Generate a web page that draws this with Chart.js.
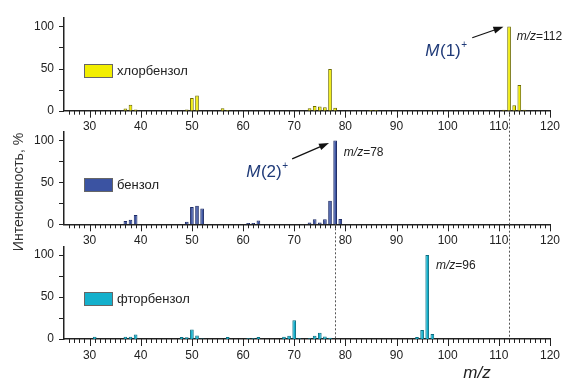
<!DOCTYPE html>
<html><head><meta charset="utf-8">
<script src="https://cdn.jsdelivr.net/npm/chart.js@4"></script>
<style>
html,body{margin:0;padding:0;background:#fff;width:580px;height:385px;overflow:hidden}
#wrap{position:relative;width:580px;height:385px}
canvas{position:absolute;left:0;top:0}
</style></head><body>
<div id="wrap">
<canvas id="c1" width="580" height="385"></canvas>
<canvas id="c2" width="580" height="385"></canvas>
<canvas id="c3" width="580" height="385"></canvas>
</div>
<script>
// ---- data ----
const xMin = 25, xMax = 120;
const xTickLabels = [30, 40, 50, 60, 70, 80, 90, 100, 110, 120];
const yTickLabels = [0, 50, 100];
const seriesNames = ['хлорбензол', 'бензол', 'фторбензол'];

const chloroMz  = [37, 38, 39, 49, 50, 51, 56, 57, 73, 74, 75, 76, 77, 78, 85, 86, 97, 111, 112, 113, 114, 115];
const chloroInt = [2.5, 7, 1.5, 1.5, 15, 18, 2.8, 0.8, 2.8, 5.5, 5, 4, 49.5, 3.5, 0.8, 0.8, 0.4, 1, 100, 6.5, 30.5, 1];

const benzMz  = [37, 38, 39, 49, 50, 51, 52, 61, 62, 63, 73, 74, 75, 76, 77, 78, 79];
const benzInt = [4, 5.5, 11, 3, 20.7, 22, 18.7, 1.5, 1.5, 4.5, 2, 6, 2, 6, 28, 100, 6.3];

const fluoMz  = [31, 37, 38, 39, 48, 49, 50, 51, 52, 57, 61, 62, 63, 68, 69, 70, 71, 73, 74, 75, 76, 77, 94, 95, 96, 97];
const fluoInt = [2.7, 2.7, 2.7, 5.5, 2.5, 2, 11.4, 4.3, 0.7, 2.5, 1, 1, 2.5, 2.7, 3.8, 22.4, 1, 1, 3.8, 7.5, 3.1, 1.5, 2.3, 10.6, 100, 5.9];

const molPeaks = [112, 78, 96];

const charts = [];
const FONT = '"Liberation Sans", Arial, sans-serif';

const decorPlugin = {
  id: 'decor',
  afterDraw(chart, args, opts) {
    const ctx = chart.ctx, xs = chart.scales.x, ys = chart.scales.y;
    ctx.save();
    // tick marks
    ctx.strokeStyle = '#222'; ctx.lineWidth = 1;
    ctx.beginPath();
    for (let v = xMin + 1; v <= xMax; v++) {
      const px = Math.round(xs.getPixelForValue(v)) + 0.5;
      const len = v % 10 === 0 ? 7 : 4;
      ctx.moveTo(px, ys.bottom); ctx.lineTo(px, ys.bottom + len);
    }
    for (let v = 0; v <= 100; v += 25) {
      const py = Math.round(ys.getPixelForValue(v)) + 0.5;
      ctx.moveTo(xs.left - 5, py); ctx.lineTo(xs.left, py);
    }
    ctx.stroke();
    // legend
    const ds = chart.data.datasets[0];
    const bx = xs.left + 20, by = Math.round(ys.getPixelForValue(opts.legendY)) - 7;
    ctx.fillStyle = ds.backgroundColor; ctx.fillRect(bx, by, 29, 14);
    ctx.strokeStyle = '#666'; ctx.lineWidth = 1; ctx.strokeRect(bx + 0.5, by + 0.5, 28, 13);
    ctx.fillStyle = '#222'; ctx.font = '13px ' + FONT; ctx.textBaseline = 'middle'; ctx.textAlign = 'left';
    ctx.fillText(ds.label, bx + 33, by + 7);
    // annotations
    (opts.items || []).forEach(it => {
      if (it.type === 'arrow') {
        const x1 = xs.getPixelForValue(it.x1), y1 = ys.getPixelForValue(it.y1);
        const x2 = xs.getPixelForValue(it.x2), y2 = ys.getPixelForValue(it.y2);
        const a = Math.atan2(y2 - y1, x2 - x1);
        ctx.strokeStyle = '#111'; ctx.fillStyle = '#111'; ctx.lineWidth = 1.2;
        ctx.beginPath(); ctx.moveTo(x1, y1); ctx.lineTo(x2 - 8 * Math.cos(a), y2 - 8 * Math.sin(a)); ctx.stroke();
        ctx.beginPath();
        ctx.moveTo(x2, y2);
        ctx.lineTo(x2 - 10 * Math.cos(a) + 3.5 * Math.sin(a), y2 - 10 * Math.sin(a) - 3.5 * Math.cos(a));
        ctx.lineTo(x2 - 10 * Math.cos(a) - 3.5 * Math.sin(a), y2 - 10 * Math.sin(a) + 3.5 * Math.cos(a));
        ctx.closePath(); ctx.fill();
      } else if (it.type === 'mol') {
        const xr = xs.getPixelForValue(it.x), y = ys.getPixelForValue(it.y);
        ctx.textBaseline = 'middle'; ctx.textAlign = 'left'; ctx.fillStyle = '#1f3a78';
        ctx.font = 'italic 17px ' + FONT; const wM = ctx.measureText('M').width;
        ctx.font = '17px ' + FONT; const wP = ctx.measureText('(' + it.n + ')').width;
        ctx.font = '10px ' + FONT; const wS = ctx.measureText('+').width;
        let x = xr - (wM + wP + wS + 1);
        ctx.font = 'italic 17px ' + FONT; ctx.fillText('M', x, y); x += wM + 0.5;
        ctx.font = '17px ' + FONT; ctx.fillText('(' + it.n + ')', x, y); x += wP + 0.5;
        ctx.font = '10px ' + FONT; ctx.fillText('+', x, y - 6);
      } else if (it.type === 'mz') {
        const x = xs.getPixelForValue(it.x), y = ys.getPixelForValue(it.y);
        ctx.textBaseline = 'middle'; ctx.textAlign = 'left'; ctx.fillStyle = '#222';
        ctx.font = 'italic 12px ' + FONT; ctx.fillText('m/z', x, y);
        const w = ctx.measureText('m/z').width;
        ctx.font = '12px ' + FONT; ctx.fillText('=' + it.v, x + w, y);
      }
    });
    // global decorations drawn on the last chart
    if (opts.global && charts.length === 2) {
      const c1 = charts[0], c2 = charts[1];
      const yEnd = ys.getPixelForValue(0);
      ctx.strokeStyle = '#555'; ctx.lineWidth = 1; ctx.setLineDash([2, 2]);
      ctx.beginPath();
      let px = Math.round(xs.getPixelForValue(molPeaks[0])) + 0.5;
      ctx.moveTo(px, c1.scales.y.getPixelForValue(0)); ctx.lineTo(px, yEnd);
      px = Math.round(xs.getPixelForValue(molPeaks[1])) + 0.5;
      ctx.moveTo(px, c2.scales.y.getPixelForValue(0)); ctx.lineTo(px, yEnd);
      ctx.stroke();
      ctx.setLineDash([]);
      // axis titles
      ctx.fillStyle = '#222'; ctx.textAlign = 'center'; ctx.textBaseline = 'middle';
      ctx.font = 'italic 17px ' + FONT;
      ctx.fillText('m/z', 477, 373);
      ctx.save();
      ctx.translate(19, 192); ctx.rotate(-Math.PI / 2);
      ctx.font = '14px ' + FONT; ctx.fillStyle = '#333';
      ctx.fillText('Интенсивность, %', 0, 0);
      ctx.restore();
    }
    ctx.restore();
  }
};

function makeChart(id, name, mz, vals, fill, border, top, bottom, items, global) {
  const c = new Chart(document.getElementById(id), {
    type: 'bar',
    data: {
      datasets: [{
        label: name,
        data: mz.map((x, i) => ({ x: x, y: vals[i] })),
        backgroundColor: fill, borderColor: border, borderWidth: 1,
        categoryPercentage: 0.8, barPercentage: 0.9
      }]
    },
    options: {
      responsive: false, animation: false, events: [],
      layout: { padding: { left: 0, right: 30, top: top, bottom: 385 - bottom - 20 } },
      plugins: { legend: { display: false }, tooltip: { enabled: false },
        decor: { items: items, legendY: 47, global: global } },
      scales: {
        x: {
          type: 'linear', min: xMin, max: xMax, offset: false,
          grid: { display: false, drawTicks: false, offset: false },
          border: { display: true, color: '#222', width: 1.5 },
          ticks: { stepSize: 1, autoSkip: false, maxRotation: 0, padding: 9,
            color: '#222', font: { family: FONT, size: 12 },
            callback: v => xTickLabels.includes(v) ? String(v) : '' },
          afterFit: s => { s.height = 20; }
        },
        y: {
          min: 0, max: 110,
          grid: { display: false, drawTicks: false },
          border: { display: true, color: '#222', width: 1.5 },
          ticks: { autoSkip: false, padding: 10,
            color: '#222', font: { family: FONT, size: 12 } },
          afterBuildTicks: s => { s.ticks = yTickLabels.map(v => ({ value: v })); },
          afterFit: s => { s.width = 64; }
        }
      }
    },
    plugins: [decorPlugin]
  });
  charts.push(c);
  return c;
}

makeChart('c1', seriesNames[0], chloroMz, chloroInt, '#f2ee00', '#6e6c00', 18, 110.7, [
  { type: 'arrow', x1: 104.8, y1: 86.5, x2: 110.9, y2: 99.5 },
  { type: 'mol', n: 1, x: 103.8, y: 70 },
  { type: 'mz', v: 112, x: 113.5, y: 88 }
], false);
makeChart('c2', seriesNames[1], benzMz, benzInt, '#3b53a2', '#1d2b66', 132, 224.3, [
  { type: 'arrow', x1: 69.6, y1: 78, x2: 76.8, y2: 97 },
  { type: 'mol', n: 2, x: 68.8, y: 62.5 },
  { type: 'mz', v: 78, x: 79.7, y: 85 }
], false);
makeChart('c3', seriesNames[2], fluoMz, fluoInt, '#14b0cc', '#0b6f82', 246.5, 339, [
  { type: 'mz', v: 96, x: 97.7, y: 87 }
], true);
</script>
</body></html>
